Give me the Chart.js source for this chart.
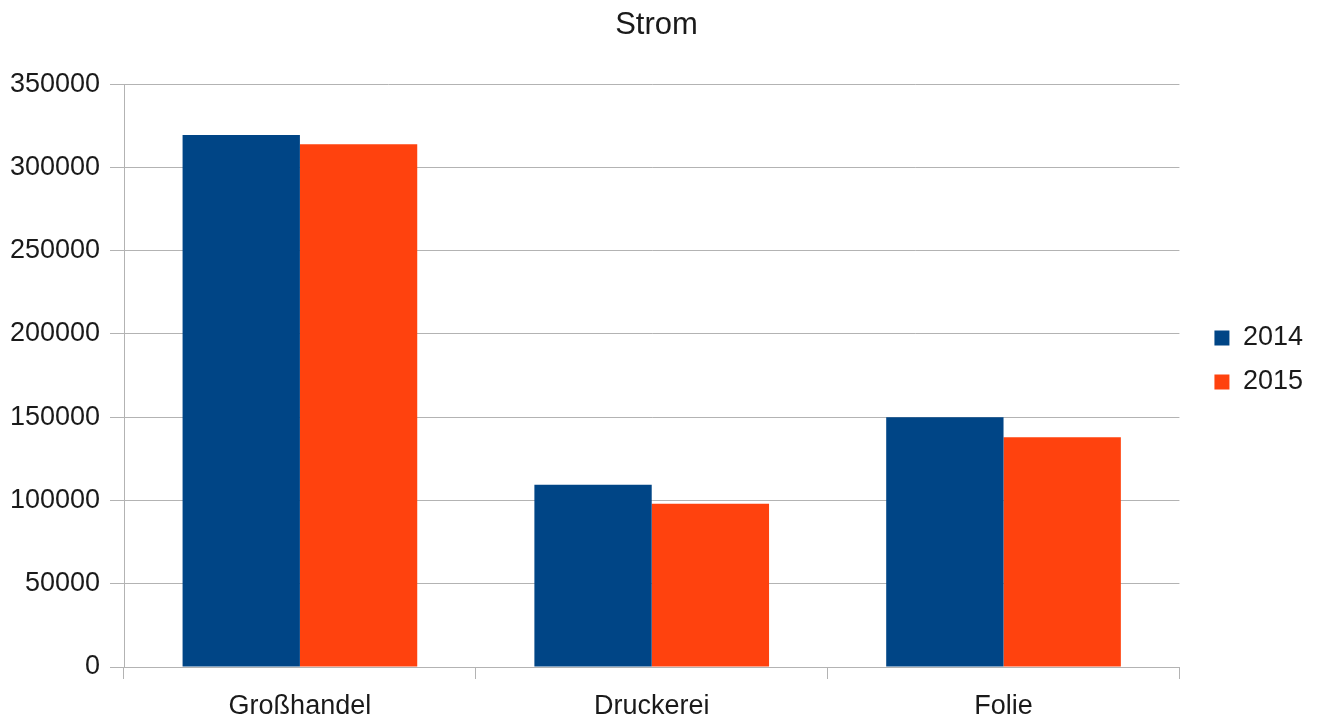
<!DOCTYPE html>
<html>
<head>
<meta charset="utf-8">
<script src="https://cdn.jsdelivr.net/npm/chart.js@4.4.1/dist/chart.umd.min.js"></script>
<style>
  html, body { margin: 0; padding: 0; background: #ffffff; }
  #wrap { width: 1318px; height: 720px; }
</style>
</head>
<body>
<div id="wrap"><canvas id="c"></canvas></div>
<script>
const categories = ['Großhandel', 'Druckerei', 'Folie'];
const series2014 = [319500, 109500, 150000];
const series2015 = [314000, 98000, 138000];
const yTicks = [0, 50000, 100000, 150000, 200000, 250000, 300000, 350000];

const FONT = "'Liberation Sans', Arial, sans-serif";
const GRID = '#b3b3b3';
const TEXT = '#1a1a1a';

new Chart(document.getElementById('c'), {
  type: 'bar',
  data: {
    labels: categories,
    datasets: [
      { label: '2014', data: series2014, backgroundColor: '#004586' },
      { label: '2015', data: series2015, backgroundColor: '#ff420e' }
    ]
  },
  options: {
    responsive: true,
    maintainAspectRatio: false,
    animation: false,
    layout: { padding: { left: 0, right: 5, top: 0, bottom: 0 } },
    datasets: { bar: { categoryPercentage: 0.667, barPercentage: 1.0 } },
    plugins: {
      title: {
        display: true,
        text: 'Strom',
        color: TEXT,
        font: { family: FONT, size: 31, weight: 'normal' },
        padding: { top: 7, bottom: 40 }
      },
      legend: {
        position: 'right',
        labels: {
          color: TEXT,
          font: { family: FONT, size: 27 },
          boxWidth: 15,
          boxHeight: 15,
          padding: 17
        }
      },
      tooltip: { enabled: false }
    },
    scales: {
      x: {
        afterFit: (scale) => { scale.height = 53; },
        grid: {
          offset: true,
          drawOnChartArea: false,
          drawTicks: true,
          tickLength: 12,
          color: GRID
        },
        border: { color: GRID },
        ticks: {
          color: TEXT,
          font: { family: FONT, size: 27 },
          padding: 11
        }
      },
      y: {
        min: 0,
        max: 350000,
        afterBuildTicks: (scale) => { scale.ticks = yTicks.map(v => ({ value: v })); },
        afterFit: (scale) => { scale.width = 124; },
        grid: { color: GRID, tickLength: 14 },
        border: { color: GRID },
        ticks: {
          color: TEXT,
          font: { family: FONT, size: 27 },
          padding: 10,
          callback: (v) => String(v)
        }
      },
      // empty gap between the plot area and the legend
      gap: {
        type: 'linear',
        position: 'right',
        display: true,
        afterFit: (scale) => { scale.width = 18; },
        grid: { display: false, drawTicks: false },
        border: { display: false },
        ticks: { display: false }
      }
    }
  }
});
</script>
</body>
</html>
